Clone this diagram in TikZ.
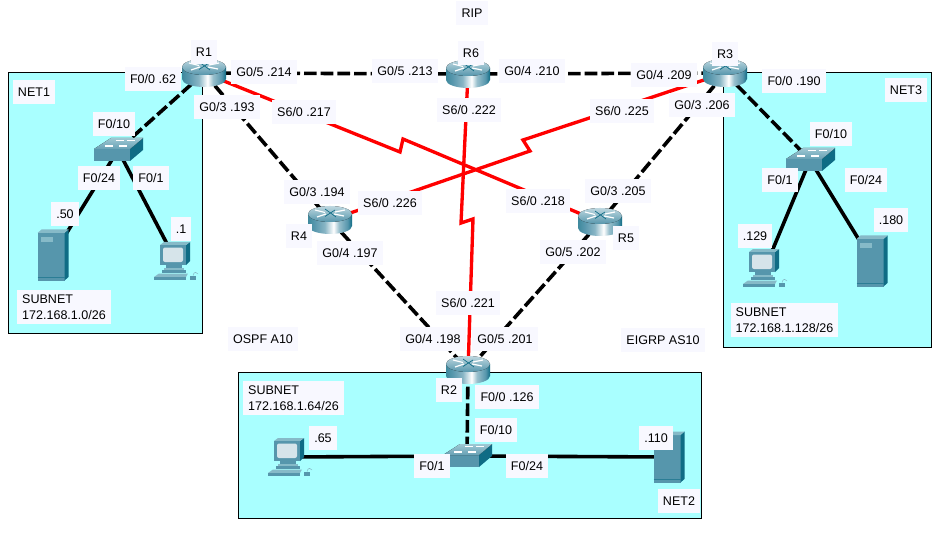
\documentclass[tikz,border=0pt]{standalone}
\usepackage{fontspec}
\setmainfont{Liberation Sans}
\definecolor{netfill}{HTML}{A9FFFF}
\definecolor{lblfill}{HTML}{F8F8FF}
\definecolor{ciscoFront}{HTML}{5696AC}
\definecolor{ciscoSide}{HTML}{0F6C85}
\definecolor{ciscoTop}{HTML}{86BAC8}
\definecolor{ciscoLight}{HTML}{D6E4EA}
\definecolor{linkred}{HTML}{FF0000}
\pgfdeclarehorizontalshading{metal}{100bp}{
 color(0bp)=(ciscoSide!80!white);
 color(25bp)=(ciscoSide!80!white);
 color(32bp)=(ciscoFront);
 color(44bp)=(ciscoFront!70!white);
 color(54bp)=(white);
 color(60bp)=(ciscoFront!60!white);
 color(70bp)=(ciscoFront);
 color(75bp)=(ciscoSide);
 color(100bp)=(ciscoSide)}
\tikzset{
 x=.75pt,y=-.75pt,
 anchorpt/.style={inner sep=0pt,minimum size=0pt,outer sep=0pt},
 netbox/.style={draw=black,line width=.8pt,fill=netfill},
 lan/.style={line width=2.7pt,black,dash pattern=on 9.5pt off 3pt},
 wire/.style={line width=2.7pt,black},
 serial/.style={line width=2.5pt,linkred,line join=miter},
 lbl/.style={fill=lblfill,inner xsep=3.8pt,inner ysep=0pt,minimum height=17.4pt,font=\fontsize{9.4}{12.4}\selectfont,text=black},
 block/.style={lbl,align=left,inner ysep=3pt,minimum height=0pt},
 routerpic/.pic={
  \shade[shading=metal] (-22,-6) -- (-22,6) arc[x radius=22,y radius=8,start angle=180,end angle=0] -- (22,-6) -- cycle;
  \fill[top color=ciscoLight!70!ciscoTop,bottom color=ciscoFront] (0,-6) ellipse[x radius=22,y radius=8];
  \draw[white,line width=.9pt] (-15,-10) -- (-5,-7.5) (15,-10) -- (5,-8) (-13,-3) -- (-4,-6) (14,-4) -- (4,-6);
  \draw[ciscoSide,line width=.5pt] (-5,-3.5) -- (5,-10) (-5,-11) -- (6,-3);
 },
 switchpic/.pic={
  \fill[ciscoFront] (-24,-1) -- (12,-1) -- (12,11) -- (-24,11) -- cycle;
  \fill[ciscoSide] (12,-1) -- (25,-12) -- (25,0) -- (12,11) -- cycle;
  \fill[top color=ciscoTop!80!white,bottom color=ciscoFront!90!white] (-24,-1) -- (-7,-12) -- (25,-12) -- (12,-1) -- cycle;
  \draw[white,line width=.8pt] (-2,-9.5) -- (6,-9.5) (9,-9.5) -- (17,-9.5) (-13,-4) -- (-5,-4) (1,-4) -- (9,-4);
 },
 pcpic/.pic={
  \fill[ciscoSide] (10,-16) -- (14,-19) -- (14,0) -- (10,4) -- cycle;
  \fill[ciscoTop] (-16,-16) -- (-12,-19) -- (14,-19) -- (10,-16) -- cycle;
  \fill[ciscoFront] (-16,-16) rectangle (10,4);
  \fill[ciscoLight,rounded corners=1.5pt] (-13,-13.5) rectangle (7,1);
  \fill[ciscoFront] (-10,4) rectangle (6,7);
  \fill[ciscoTop] (-12,7) rectangle (8,9);
  \fill[ciscoFront] (-14,9) rectangle (10,11.5);
  \fill[ciscoTop] (-17,12.5) -- (12,12.5) -- (10,16) -- (-22,16) -- cycle;
  \fill[ciscoFront] (-22,16) rectangle (10,18.5);
  \fill[ciscoFront] (14,14.5) rectangle (20,19);
  \draw[ciscoTop,line width=.4pt] (17,14.5) .. controls (18,10) and (21,11) .. (22,13);
 },
 serverpic/.pic={
  \fill[ciscoFront] (-15.5,-22) rectangle (11.5,25.5);
  \fill[ciscoSide] (11.5,-22) -- (15.5,-25.5) -- (15.5,22) -- (11.5,25.5) -- cycle;
  \fill[ciscoTop] (-15.5,-22) -- (-11.5,-25.5) -- (15.5,-25.5) -- (11.5,-22) -- cycle;
  \fill[ciscoTop] (-12,-18) rectangle (0,-13);
  \draw[ciscoSide!60!ciscoFront,line width=.4pt] (-15.5,22) -- (11.5,22);
 },
}
\newcommand{\lblnode}[3]{\node[lbl] (#1) at (#2) {#3};}
\begin{document}
\begin{tikzpicture}
\useasboundingbox (0,0) rectangle (952,552);
\fill[white] (0,0) rectangle (952,552);
% network areas
\draw[netbox] (8.5,72.5) rectangle (202.5,333.5);
\draw[netbox] (723.5,72.5) rectangle (931.5,347.5);
\draw[netbox] (238.5,372.5) rectangle (701.5,518.5);
% devices (anchors)
\node[anchorpt] (R1) at (204,73) {};
\node[anchorpt] (R2) at (468,370) {};
\node[anchorpt] (R3) at (725,73) {};
\node[anchorpt] (R4) at (330,220) {};
\node[anchorpt] (R5) at (600,222) {};
\node[anchorpt] (R6) at (468,74) {};
\node[anchorpt] (SW1) at (118,150) {};
\node[anchorpt] (SW2) at (467,456) {};
\node[anchorpt] (SW3) at (810,160) {};
\node[anchorpt] (PC1) at (176,261) {};
\node[anchorpt] (PC2) at (290,457) {};
\node[anchorpt] (PC3) at (765,268) {};
\node[anchorpt] (SV1) at (53,255) {};
\node[anchorpt] (SV2) at (669,457) {};
\node[anchorpt] (SV3) at (872,261) {};
\coordinate (a1) at (400,152);
\coordinate (a2) at (403,139);
\coordinate (b1) at (530,151);
\coordinate (b2) at (523,140);
\coordinate (c1) at (461,223);
\coordinate (c2) at (473,219);
% connectors
\draw[lan] (R1.center) -- (R6.center);
\draw[lan] (R6.center) -- (R3.center);
\draw[lan] (R1.center) -- (R4.center);
\draw[lan] (R3.center) -- (R5.center);
\draw[lan] (R4.center) -- (R2.center);
\draw[lan] (R5.center) -- (R2.center);
\draw[lan] (R1.center) -- (SW1.center);
\draw[lan] (R3.center) -- (SW3.center);
\draw[lan] (R2.center) -- (SW2.center);
\draw[wire] (SW1.center) -- (SV1.center);
\draw[wire] (SW1.center) -- (PC1.center);
\draw[wire] (SW3.center) -- (PC3.center);
\draw[wire] (SW3.center) -- (SV3.center);
\draw[wire] (SW2.center) -- (PC2.center);
\draw[wire] (SW2.center) -- (SV2.center);
\draw[serial] (R1.center) -- (a1) -- (a2) -- (R5.center);
\draw[serial] (R4.center) -- (b1) -- (b2) -- (R3.center);
\draw[serial] (R6.center) -- (c1) -- (c2) -- (R2.center);
% icons
\foreach \n in {R1,R2,R3,R4,R5,R6} \pic at (\n.center) {routerpic};
\foreach \n in {SW1,SW2,SW3} \pic at (\n.center) {switchpic};
\foreach \n in {PC1,PC2,PC3} \pic at (\n.center) {pcpic};
\foreach \n in {SV1,SV2,SV3} \pic at (\n.center) {serverpic};
% labels
\lblnode{tRIP}{472,13}{RIP}
\lblnode{tR1}{204,52}{R1}
\lblnode{tR6}{471,53}{R6}
\lblnode{tR3}{725,54}{R3}
\lblnode{tR4}{299,236}{R4}
\lblnode{tR5}{626,238}{R5}
\lblnode{tR2}{449,390}{R2}
\lblnode{l01}{153,79}{F0/0 .62}
\lblnode{l02}{264,72}{G0/5 .214}
\lblnode{l03}{227,107}{G0/3 .193}
\lblnode{l04}{304,112}{S6/0 .217}
\lblnode{l05}{114,124}{F0/10}
\lblnode{l06}{99,178}{F0/24}
\lblnode{l07}{151,178}{F0/1}
\lblnode{l08}{65,214}{.50}
\lblnode{l09}{181,229}{.1}
\lblnode{l10}{34,92}{NET1}
\lblnode{l11}{317,192}{G0/3 .194}
\lblnode{l12}{390,203}{S6/0 .226}
\lblnode{l13}{350,253}{G0/4 .197}
\lblnode{l14}{538,201}{S6/0 .218}
\lblnode{l15}{618,191}{G0/3 .205}
\lblnode{l16}{573,252}{G0/5 .202}
\lblnode{l17}{468,303}{S6/0 .221}
\lblnode{l18}{433,339}{G0/4 .198}
\lblnode{l19}{505,339}{G0/5 .201}
\lblnode{l20}{507,397}{F0/0 .126}
\lblnode{l21}{496,430}{F0/10}
\lblnode{l22}{323,438}{.65}
\lblnode{l23}{432,466}{F0/1}
\lblnode{l24}{527,466}{F0/24}
\lblnode{l25}{656,438}{.110}
\lblnode{l26}{679,501}{NET2}
\lblnode{l27}{405,71}{G0/5 .213}
\lblnode{l28}{532,71}{G0/4 .210}
\lblnode{l29}{469,110}{S6/0 .222}
\lblnode{l30}{622,111}{S6/0 .225}
\lblnode{l31}{664,75}{G0/4 .209}
\lblnode{l32}{702,105}{G0/3 .206}
\lblnode{l33}{794,81}{F0/0 .190}
\lblnode{l34}{906,90}{NET3}
\lblnode{l35}{831,134}{F0/10}
\lblnode{l36}{780,180}{F0/1}
\lblnode{l37}{866,180}{F0/24}
\lblnode{l38}{891,220}{.180}
\lblnode{l39}{755,236}{.129}
\lblnode{l40}{663,340}{EIGRP AS10}
\lblnode{l41}{263,339}{OSPF A10}
\node[block] (s1) at (64,307) {SUBNET\\172.168.1.0/26};
\node[block] (s2) at (293.5,398) {SUBNET\\172.168.1.64/26};
\node[block] (s3) at (784.5,320) {SUBNET\\172.168.1.128/26};
\end{tikzpicture}
\end{document}
